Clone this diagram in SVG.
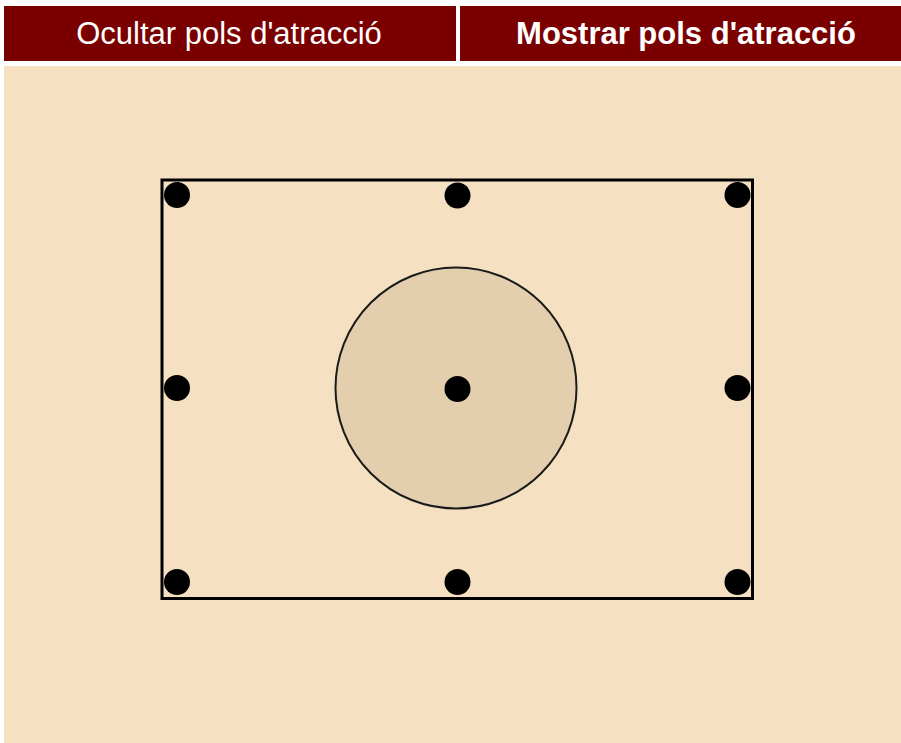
<svg xmlns="http://www.w3.org/2000/svg" width="901" height="743" viewBox="0 0 901 743">
<style>
.btn{fill:#7a0000}
.lbl{font-family:"Liberation Sans",Arial,sans-serif;font-size:31px;fill:#ffffff;text-anchor:middle}
.pole{fill:#000000}
</style>
<rect x="0" y="0" width="901" height="743" fill="#ffffff"/>
<g id="btn-hide">
<rect class="btn" x="4" y="6" width="452" height="55"/>
<text class="lbl" x="229" y="44">Ocultar pols d'atracció</text>
</g>
<g id="btn-show">
<rect class="btn" x="460" y="6" width="441" height="55"/>
<text class="lbl" x="686" y="44" font-weight="bold">Mostrar pols d'atracció</text>
</g>
<rect id="panel" x="4" y="66" width="897" height="677" fill="#f5e1c2"/>
<g id="frame">
<rect x="162" y="180" width="590.5" height="418.5" fill="none" stroke="#000000" stroke-width="3"/>
</g>
<g id="zone">
<circle cx="456" cy="388" r="120.5" fill="#e3cfad" stroke="#1a1a1a" stroke-width="2"/>
</g>
<g id="poles">
<circle class="pole" cx="177" cy="195" r="13"/>
<circle class="pole" cx="457.5" cy="195.5" r="13"/>
<circle class="pole" cx="737.5" cy="195" r="13"/>
<circle class="pole" cx="177" cy="388" r="13"/>
<circle class="pole" cx="457.5" cy="389" r="13"/>
<circle class="pole" cx="737.5" cy="388" r="13"/>
<circle class="pole" cx="177" cy="582" r="13"/>
<circle class="pole" cx="457.5" cy="582" r="13"/>
<circle class="pole" cx="737.5" cy="582" r="13"/>
</g>
<g id="connectors"></g>
</svg>
